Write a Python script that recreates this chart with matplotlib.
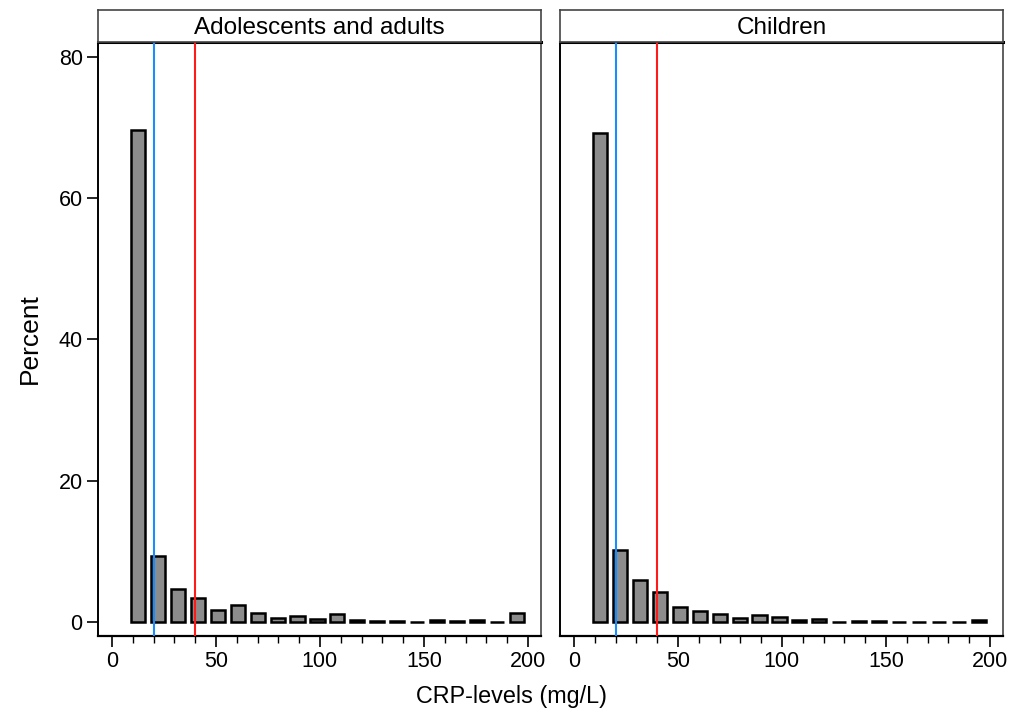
import numpy as np
import matplotlib
matplotlib.use("Agg")
import matplotlib.pyplot as plt

plt.rcParams['font.family'] = ['Liberation Sans', 'DejaVu Sans']

# Histogram bins (20 bins of CRP in mg/L)
bin_start = 7.8
bin_width = 9.58
n_bins = 20

# Percent per bin
adults = [69.7, 9.4, 4.7, 3.45, 1.75, 2.45, 1.3, 0.6, 0.9, 0.4,
          1.1, 0.3, 0.1, 0.1, 0.05, 0.25, 0.1, 0.25, 0.03, 1.3]
children = [69.2, 10.2, 6.0, 4.2, 2.1, 1.6, 1.08, 0.6, 1.0, 0.7,
            0.3, 0.4, 0.05, 0.1, 0.1, 0.05, 0.05, 0.0, 0.05, 0.3]

panels = ["Adolescents and adults", "Children"]
cutoffs = [20, 40]
cut_colors = ["#1a8cff", "#ff1a1a"]

centers = bin_start + bin_width * (np.arange(n_bins) + 0.5)

fig = plt.figure(figsize=(10.11, 7.13), dpi=100)
W, H = 1011, 713
ax_px = [(98, 541), (560, 1003)]
top_px, bot_px, strip_top = 42, 636, 10

for i, (title, vals) in enumerate(zip(panels, [adults, children])):
    l, r = ax_px[i]
    ax = fig.add_axes([l / W, 1 - bot_px / H, (r - l) / W, (bot_px - top_px) / H])
    ax.bar(centers, vals, width=6.8, color="#8c8c8c", edgecolor="black",
           linewidth=1.8, zorder=3)
    for c, col in zip(cutoffs, cut_colors):
        ax.axvline(c, color=col, linewidth=1.5, zorder=4)
    ax.set_xlim(-6.7, 206.3)
    ax.set_ylim(-1.98, 82.1)
    ax.set_xticks([0, 50, 100, 150, 200])
    ax.set_xticks(np.arange(0, 201, 10), minor=True)
    ax.tick_params(axis='x', which='major', length=8, width=1.2, labelsize=15.5, pad=3)
    ax.tick_params(axis='x', which='minor', length=5, width=1.0)
    ax.set_yticks([0, 20, 40, 60, 80])
    if i == 0:
        ax.tick_params(axis='y', length=8, width=1.2, labelsize=15.5, pad=3)
        ax.set_ylabel("Percent", fontsize=19, labelpad=12)
    else:
        ax.tick_params(axis='y', left=False, labelleft=False)
    for s in ["top", "right"]:
        ax.spines[s].set_color("#444444")
        ax.spines[s].set_linewidth(1.2)
    ax.spines["left"].set_linewidth(1.4)
    ax.spines["bottom"].set_linewidth(1.6)
    ax.spines["top"].set_color("black")
    ax.spines["top"].set_linewidth(2.2)

    # strip label box
    sax = fig.add_axes([l / W, 1 - top_px / H, (r - l) / W, (top_px - strip_top) / H])
    sax.set_xticks([])
    sax.set_yticks([])
    for s in sax.spines.values():
        s.set_color("#444444")
        s.set_linewidth(1.2)
    sax.text(0.5, 0.45, title, ha="center", va="center", fontsize=17.5,
             transform=sax.transAxes)

fig.text(511 / W, 1 - 697 / H, "CRP-levels (mg/L)", ha="center",
         va="center", fontsize=16.8)

fig.savefig("out.png", dpi=100)
